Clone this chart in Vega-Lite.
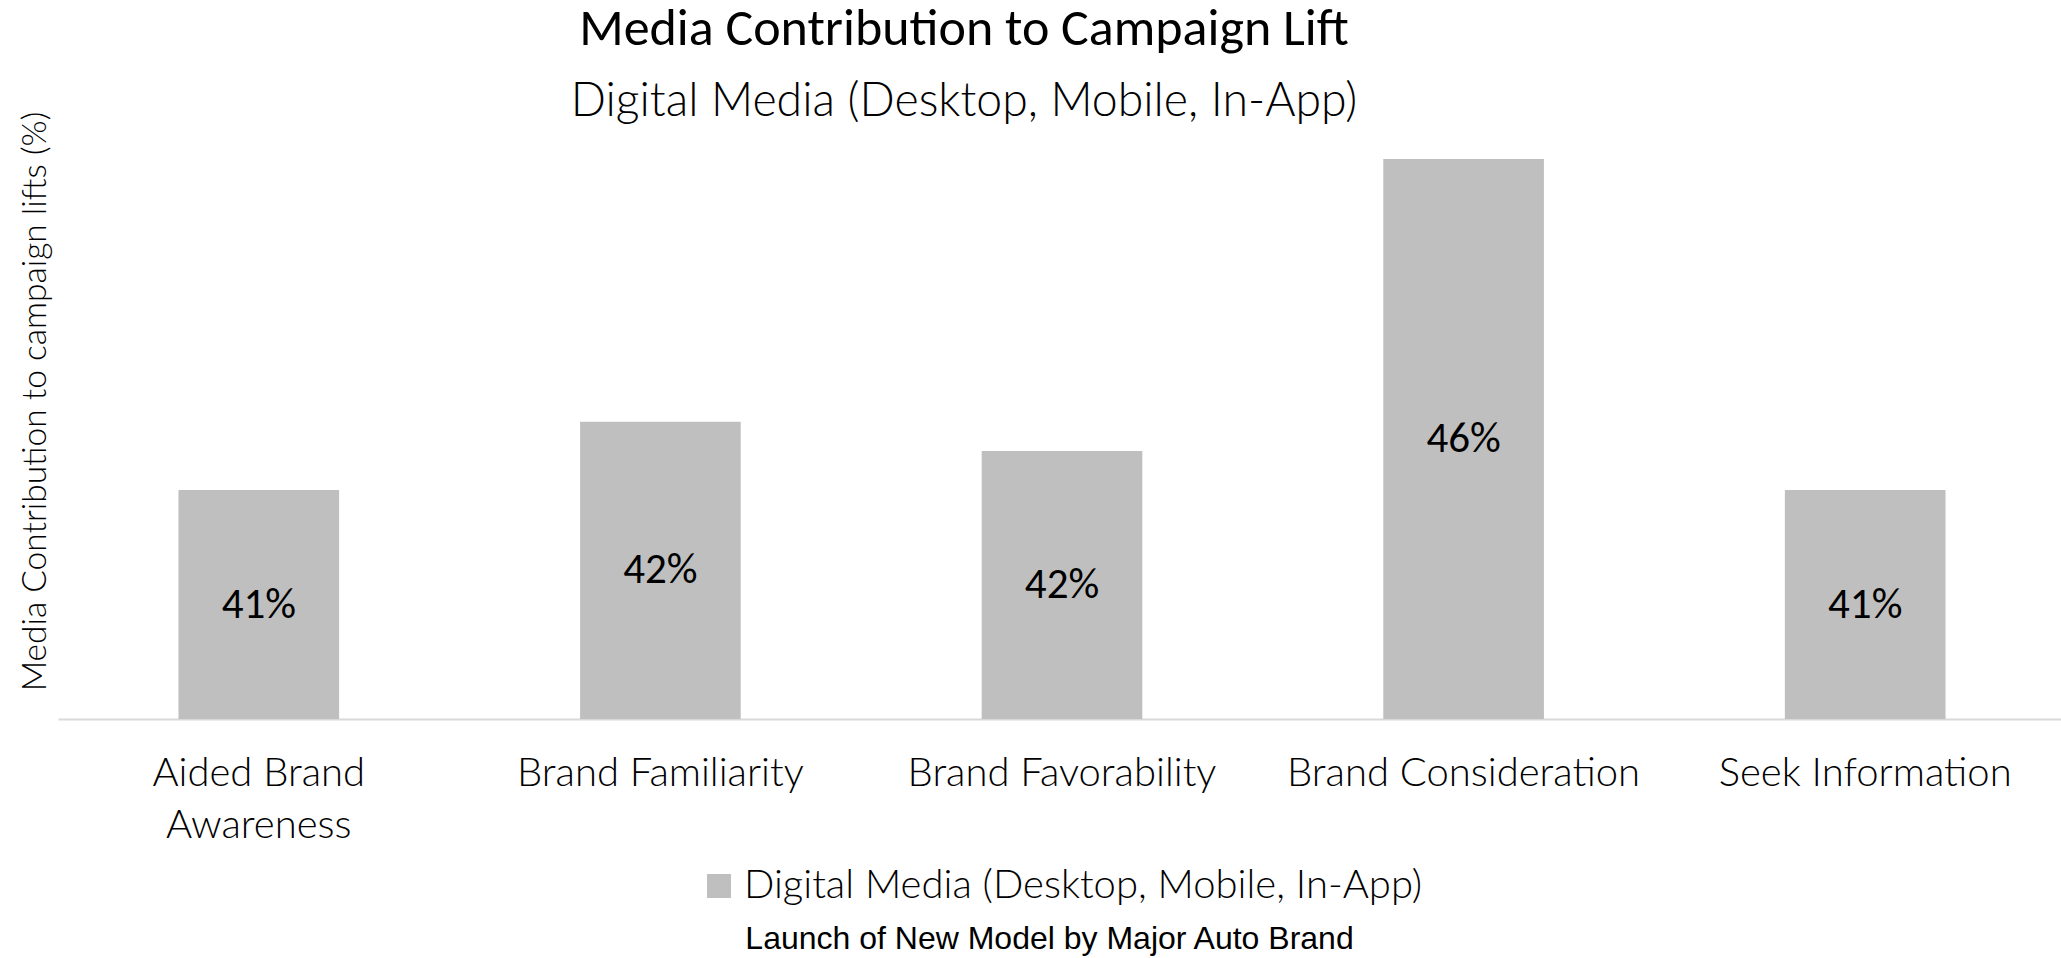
{
  "$schema": "https://vega.github.io/schema/vega-lite/v6.json",
  "width": 2008,
  "height": 593,
  "autosize": {"type": "none"},
  "padding": {"left": 58, "top": 126, "right": 0, "bottom": 239},
  "background": "white",
  "config": {"view": {"stroke": null}},
  "title": {
    "text": "Media Contribution to Campaign Lift",
    "subtitle": "Digital Media (Desktop, Mobile, In-App)",
    "font": "Carlito, Calibri, Lato, sans-serif",
    "fontSize": 52,
    "fontWeight": "normal",
    "color": "black",
    "subtitleFont": "Lato, Carlito, sans-serif",
    "subtitleFontSize": 46.4,
    "subtitleFontWeight": 300,
    "subtitleColor": "black",
    "subtitlePadding": 23,
    "anchor": "middle",
    "dx": -98,
    "offset": -15
  },
  "data": {
    "values": [
      {"category": "Aided Brand|Awareness", "value": 0.410, "series": "Digital Media (Desktop, Mobile, In-App)"},
      {"category": "Brand Familiarity", "value": 0.4203, "series": "Digital Media (Desktop, Mobile, In-App)"},
      {"category": "Brand Favorability", "value": 0.4159, "series": "Digital Media (Desktop, Mobile, In-App)"},
      {"category": "Brand Consideration", "value": 0.460, "series": "Digital Media (Desktop, Mobile, In-App)"},
      {"category": "Seek Information", "value": 0.410, "series": "Digital Media (Desktop, Mobile, In-App)"}
    ]
  },
  "layer": [
    {
      "mark": {"type": "bar"},
      "encoding": {
        "x": {
          "field": "category",
          "type": "nominal",
          "sort": null,
          "scale": {"paddingInner": 0.6, "paddingOuter": 0.3},
          "axis": {
            "title": "Launch of New Model by Major Auto Brand",
            "labelExpr": "split(datum.label, '|')",
            "labelFont": "Lato, Carlito, sans-serif",
            "labelFontSize": 40,
            "labelFontWeight": 300,
            "labelColor": "black",
            "labelAngle": 0,
            "labelPadding": 34,
            "labelLineHeight": 52,
            "labelLimit": 0,
            "ticks": false,
            "domainColor": "#d9d9d9",
            "domainWidth": 2,
            "titleFont": "Liberation Sans, Arial, sans-serif",
            "titleFontSize": 32,
            "titleFontWeight": "normal",
            "titleColor": "black",
            "titleX": 991,
            "titleY": 229,
            "titleBaseline": "alphabetic",
            "titleAlign": "center"
          }
        },
        "y": {
          "field": "value",
          "type": "quantitative",
          "scale": {"domain": [0.3754, 0.465], "zero": false, "nice": false},
          "axis": {
            "title": "Media Contribution to campaign lifts (%)",
            "labels": false,
            "ticks": false,
            "domain": false,
            "grid": false,
            "titleFont": "Lato, Carlito, sans-serif",
            "titleFontSize": 33.5,
            "titleFontWeight": 300,
            "titleColor": "black",
            "titleX": -6,
            "titleY": 275
          }
        },
        "y2": {"datum": 0.3754},
        "color": {
          "field": "series",
          "type": "nominal",
          "scale": {"range": ["#bfbfbf"]},
          "legend": {
            "title": null,
            "orient": "none",
            "legendX": 641,
            "legendY": 740,
            "padding": 0,
            "symbolType": "square",
            "symbolSize": 576,
            "symbolStrokeWidth": 0,
            "labelFont": "Lato, Carlito, sans-serif",
            "labelFontSize": 40,
            "labelFontWeight": 300,
            "labelColor": "black",
            "labelOffset": 5,
            "labelLimit": 0
          }
        }
      }
    },
    {
      "mark": {"type": "text", "font": "Carlito, Calibri, Lato, sans-serif", "fontSize": 43, "color": "black", "baseline": "middle", "align": "center"},
      "encoding": {
        "x": {"field": "category", "type": "nominal", "sort": null},
        "y": {
          "field": "value",
          "type": "quantitative",
          "scale": {"domain": [0.3754, 0.5546], "zero": false, "nice": false},
          "axis": null
        },
        "text": {"field": "value", "type": "quantitative", "format": ".0%"}
      }
    }
  ],
  "resolve": {"scale": {"y": "independent"}}
}
